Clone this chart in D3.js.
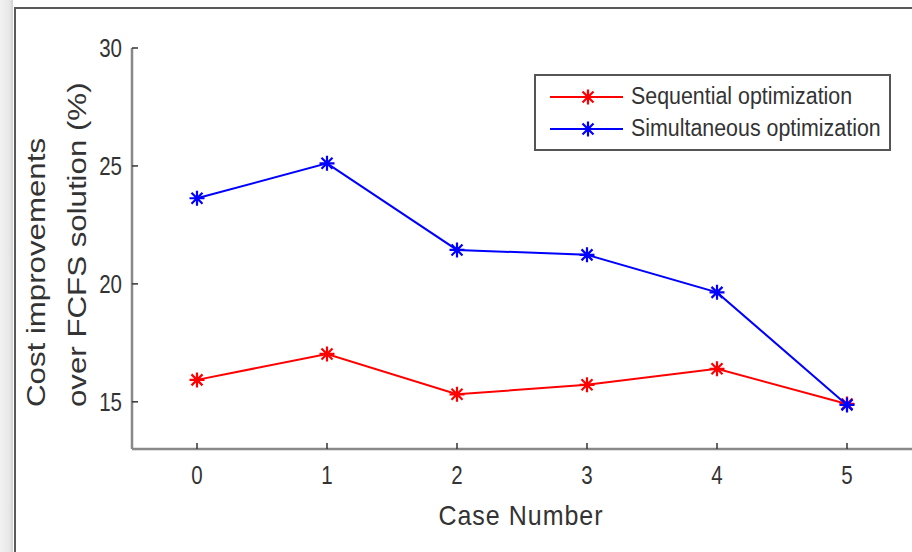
<!DOCTYPE html>
<html>
<head>
<meta charset="utf-8">
<script src="https://cdn.jsdelivr.net/npm/d3@7/dist/d3.min.js"></script>
<style>
  html, body { margin: 0; padding: 0; background: #fff; }
  svg { display: block; font-family: "Liberation Sans", Arial, sans-serif; }
</style>
</head>
<body>
<script>
// data
let cases = [0, 1, 2, 3, 4, 5];
let sequential = [15.93, 17.03, 15.32, 15.72, 16.40, 14.91];
let simultaneous = [23.63, 25.11, 21.44, 21.23, 19.64, 14.87];
let yTicks = [15, 20, 25, 30];
let seriesNames = ["Sequential optimization", "Simultaneous optimization"];
let seriesColors = ["#ff0000", "#0000ff"];

init();

function init() {
  let width = 912, height = 552;
  let svg = d3.select("body").append("svg")
              .attr("width", width)
              .attr("height", height);

  // grey strip + frame of the figure window
  let grad = svg.append("defs").append("linearGradient")
                .attr("id", "edge").attr("x1", 0).attr("x2", 1);
  grad.append("stop").attr("offset", 0).attr("stop-color", "#f2f2f2");
  grad.append("stop").attr("offset", 0.75).attr("stop-color", "#e6e6e6");
  grad.append("stop").attr("offset", 1).attr("stop-color", "#d0d0d0");
  svg.append("rect").attr("x", 0).attr("y", 0).attr("width", 13).attr("height", height)
     .attr("fill", "url(#edge)");
  svg.append("path")
     .attr("d", "M15," + height + "V8H" + width)
     .attr("fill", "none").attr("stroke", "#5a5a5a").attr("stroke-width", 2);

  let x = d3.scaleLinear().domain([-0.5, 5.5]).range([132, 912]);
  let y = d3.scaleLinear().domain([13, 30]).range([449, 48]);

  // axes (box off, ticks inside)
  let g = svg.append("g");
  g.append("line").attr("x1", x(-0.5)).attr("x2", x(5.5)).attr("y1", y(13)).attr("y2", y(13))
   .attr("stroke", "#888").attr("stroke-width", 2.5);
  g.append("line").attr("x1", x(-0.5)).attr("x2", x(-0.5)).attr("y1", y(13)).attr("y2", y(30))
   .attr("stroke", "#888").attr("stroke-width", 2.5);

  g.selectAll(".xt").data(cases).enter().append("line")
   .attr("x1", d => x(d)).attr("x2", d => x(d))
   .attr("y1", y(13)).attr("y2", y(13) - 6)
   .attr("stroke", "#333").attr("stroke-width", 1.5);
  g.selectAll(".yt").data(yTicks).enter().append("line")
   .attr("x1", x(-0.5)).attr("x2", x(-0.5) + 6)
   .attr("y1", d => y(d)).attr("y2", d => y(d))
   .attr("stroke", "#333").attr("stroke-width", 1.5);

  let sy = 1.25;
  g.selectAll(".xl").data(cases).enter().append("text")
   .attr("transform", d => "translate(" + x(d) + "," + (y(13) + 35) + ") scale(1," + sy + ")")
   .attr("text-anchor", "middle")
   .attr("font-size", 20.5).attr("fill", "#333")
   .text(d => d);
  g.selectAll(".yl").data(yTicks).enter().append("text")
   .attr("transform", d => "translate(" + (x(-0.5) - 10) + "," + (y(d) + 9) + ") scale(1," + sy + ")")
   .attr("text-anchor", "end")
   .attr("font-size", 20.5).attr("fill", "#333")
   .text(d => d);

  svg.append("text")
     .attr("transform", "translate(521,525) scale(1,1.1)")
     .attr("text-anchor", "middle")
     .attr("font-size", 25).attr("letter-spacing", 1).attr("fill", "#333")
     .text("Case Number");

  let ylab = ["Cost improvements", "over FCFS solution (%)"];
  svg.selectAll(".ylab").data(ylab).enter().append("text")
     .attr("transform", (d, i) => "translate(" + (45 + i * 41) + ",407) rotate(-90) scale(" + sy + ",1)")
     .attr("text-anchor", "start")
     .attr("font-size", 25).attr("fill", "#333")
     .text(d => d);

  // series
  let line = d3.line().x((d, i) => x(cases[i])).y(d => y(d));
  let star = "M-7.5,0H7.5M0,-7.5V7.5M-5.5,-5.5L5.5,5.5M-5.5,5.5L5.5,-5.5";
  [sequential, simultaneous].forEach((vals, k) => {
    svg.append("path").datum(vals)
       .attr("d", line)
       .attr("fill", "none").attr("stroke", seriesColors[k]).attr("stroke-width", 2);
    svg.selectAll(".m" + k).data(vals).enter().append("path")
       .attr("transform", (d, i) => "translate(" + x(cases[i]) + "," + y(d) + ")")
       .attr("d", star)
       .attr("fill", "none").attr("stroke", seriesColors[k]).attr("stroke-width", 2.2);
  });

  // legend
  let lg = svg.append("g").attr("transform", "translate(535,75)");
  lg.append("rect").attr("width", 355).attr("height", 75)
    .attr("fill", "#fff").attr("stroke", "#555").attr("stroke-width", 2);
  seriesNames.forEach((name, k) => {
    let ly = 22 + k * 32;
    lg.append("line").attr("x1", 15).attr("x2", 88).attr("y1", ly).attr("y2", ly)
      .attr("stroke", seriesColors[k]).attr("stroke-width", 2);
    lg.append("path").attr("transform", "translate(53," + ly + ")").attr("d", star)
      .attr("fill", "none").attr("stroke", seriesColors[k]).attr("stroke-width", 2.2);
    lg.append("text")
      .attr("transform", "translate(96," + (ly + 7) + ") scale(1,1.1)")
      .attr("font-size", 21.4).attr("fill", "#333")
      .text(name);
  });
}
</script>
</body>
</html>
